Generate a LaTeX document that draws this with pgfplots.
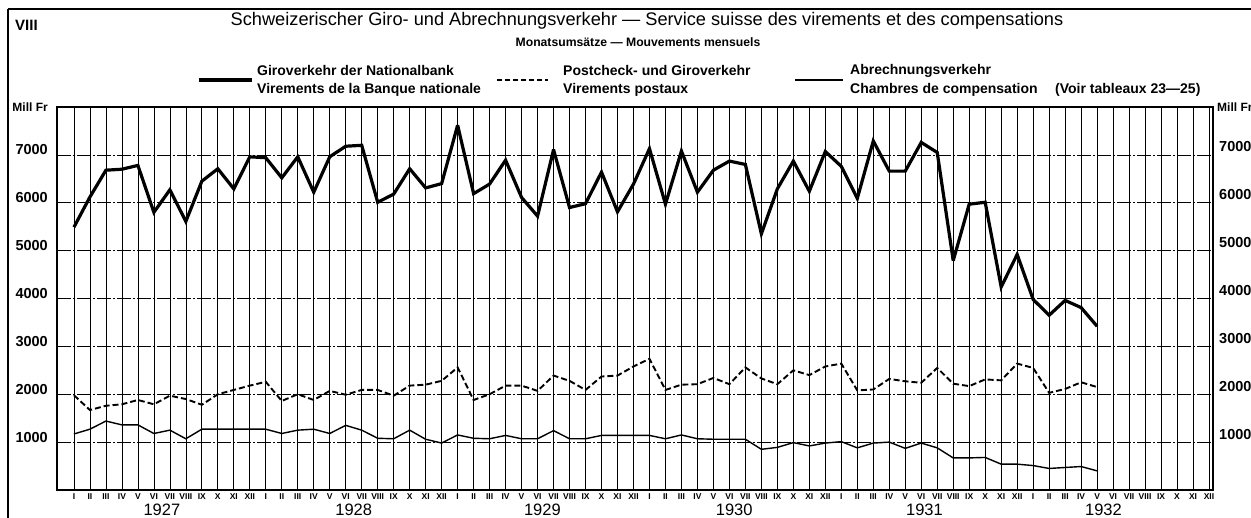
\documentclass[border=0pt]{standalone}
\usepackage{pgfplots}
\pgfplotsset{compat=1.18}
\usepackage{fontspec}
\setmainfont{Liberation Sans}

\pgfplotstableread{
i giro post abr
0 5490 1980 1170
1 6120 1670 1270
2 6680 1760 1440
3 6700 1790 1360
4 6780 1880 1360
5 5800 1790 1180
6 6270 1970 1250
7 5610 1900 1070
8 6450 1780 1270
9 6710 2000 1270
10 6290 2090 1270
11 6960 2180 1270
12 6940 2260 1270
13 6520 1860 1180
14 6960 2000 1250
15 6220 1880 1270
16 6960 2070 1180
17 7180 1990 1350
18 7200 2090 1250
19 6010 2090 1080
20 6180 1970 1070
21 6710 2180 1250
22 6310 2200 1060
23 6400 2280 980
24 7620 2560 1150
25 6190 1880 1080
26 6390 2000 1070
27 6890 2180 1140
28 6110 2180 1070
29 5720 2070 1070
30 7110 2390 1240
31 5900 2280 1070
32 5980 2090 1070
33 6640 2370 1140
34 5810 2390 1140
35 6390 2580 1140
36 7130 2740 1140
37 5970 2090 1070
38 7080 2200 1150
39 6220 2210 1070
40 6680 2340 1060
41 6870 2210 1060
42 6800 2560 1060
43 5350 2330 850
44 6290 2210 890
45 6870 2500 990
46 6240 2400 920
47 7070 2580 980
48 6760 2640 1010
49 6090 2080 880
50 7290 2100 980
51 6660 2320 1000
52 6660 2270 870
53 7260 2240 980
54 7050 2550 880
55 4790 2220 670
56 5970 2170 670
57 6010 2310 680
58 4240 2290 540
59 4920 2640 540
60 3980 2550 510
61 3650 2030 450
62 3960 2110 470
63 3810 2250 490
64 3420 2150 400
}\datatable

\begin{document}
\begin{tikzpicture}[x=1pt,y=1pt]
\path[use as bounding box] (0,0) rectangle (1251,518);
% outer border
\draw[line width=1.4pt] (8,509) -- (1251,509);
\draw[line width=1.4pt] (8,509) -- (8,0);
% headings
\node[font=\fontsize{15}{15}\selectfont\bfseries, anchor=west, inner sep=0pt] at (15,493) {VIII};
\node[font=\fontsize{18.2}{19}\selectfont, inner sep=0pt] at (647,497) {Schweizerischer Giro- und Abrechnungsverkehr — Service suisse des virements et des compensations};
\node[font=\fontsize{12.2}{13}\selectfont\bfseries, inner sep=0pt] at (638,476) {Monatsumsätze — Mouvements mensuels};
% legend
\draw[line width=3.5pt] (199,438) -- (252,438);
\draw[line width=1.8pt, dash pattern=on 5pt off 3pt] (497,438) -- (548,438);
\draw[line width=1.8pt] (795,438) -- (843,438);
\begin{scope}[every node/.style={font=\fontsize{14}{14}\selectfont\bfseries, anchor=west, inner sep=0pt}]
\node at (257,447) {Giroverkehr der Nationalbank};
\node at (257,428) {Virements de la Banque nationale};
\node at (563,447) {Postcheck- und Giroverkehr};
\node at (563,428) {Virements postaux};
\node at (850,447) {Abrechnungsverkehr};
\node at (850,428) {Chambres de compensation};
\node at (1055,428) {(Voir tableaux 23—25)};
\end{scope}
\node[font=\fontsize{12}{12}\selectfont\bfseries, anchor=east, inner sep=0pt] at (48,411) {Mill Fr};
\node[font=\fontsize{12}{12}\selectfont\bfseries, anchor=west, inner sep=0pt] at (1217,411) {Mill Fr};

% right-side labels axis
\begin{axis}[
  at={(57pt,28pt)}, anchor=south west, scale only axis,
  width=1156pt, height=383pt,
  xmin=-1.06, xmax=71.25, ymin=0, ymax=8000,
  xtick=\empty, ytick={1000,2000,...,7000},
  yticklabel pos=right,
  major tick length=0pt,
  axis line style={draw=none},
  scaled y ticks=false,
  /pgf/number format/1000 sep={},
  /pgf/number format/assume math mode=true,
  yticklabel style={font=\fontsize{14.5}{14.5}\selectfont\bfseries, anchor=west, inner sep=0pt, xshift=6pt, yshift=8pt},
]
\end{axis}

\begin{axis}[
  at={(57pt,28pt)}, anchor=south west, scale only axis,
  width=1156pt, height=383pt,
  xmin=-1.06, xmax=71.25, ymin=0, ymax=8000,
  xtick={0,1,...,71},
  xticklabels={I,II,III,IV,V,VI,VII,VIII,IX,X,XI,XII,I,II,III,IV,V,VI,VII,VIII,IX,X,XI,XII,I,II,III,IV,V,VI,VII,VIII,IX,X,XI,XII,I,II,III,IV,V,VI,VII,VIII,IX,X,XI,XII,I,II,III,IV,V,VI,VII,VIII,IX,X,XI,XII,I,II,III,IV,V,VI,VII,VIII,IX,X,XI,XII},
  ytick={1000,2000,...,7000},
  major tick length=0pt,
  xmajorgrids, ymajorgrids,
  x grid style={black, line width=0.7pt},
  y grid style={black, line width=0.7pt, dash pattern=on 14pt off 2pt on 2pt off 2pt},
  axis line style={black, line width=1.2pt},
  scaled y ticks=false,
  /pgf/number format/1000 sep={},
  /pgf/number format/assume math mode=true,
  yticklabel style={font=\fontsize{14.5}{14.5}\selectfont\bfseries, anchor=east, inner sep=0pt, xshift=-9pt, yshift=5pt},
  xticklabel style={font=\fontsize{8.5}{8.5}\selectfont\bfseries, anchor=center, inner sep=0pt, yshift=-7pt},
  clip=false,
]
\addplot[black, line width=3.2pt, line join=miter, miter limit=4] table[x=i, y=giro] {\datatable};
\addplot[black, line width=1.9pt, dash pattern=on 6pt off 3pt] table[x=i, y=post] {\datatable};
\addplot[black, line width=1.4pt] table[x=i, y=abr] {\datatable};
\begin{scope}[every node/.style={font=\fontsize{16.5}{16.5}\selectfont, inner sep=0pt, anchor=base}]
\node at (axis cs:5.5,0) [yshift=-26pt] {1927};
\node at (axis cs:17.5,0) [yshift=-26pt] {1928};
\node at (axis cs:29.3,0) [yshift=-26pt] {1929};
\node at (axis cs:41.3,0) [yshift=-26pt] {1930};
\node at (axis cs:53.2,0) [yshift=-26pt] {1931};
\node at (axis cs:64.4,0) [yshift=-26pt] {1932};
\end{scope}
\end{axis}
\end{tikzpicture}
\end{document}
